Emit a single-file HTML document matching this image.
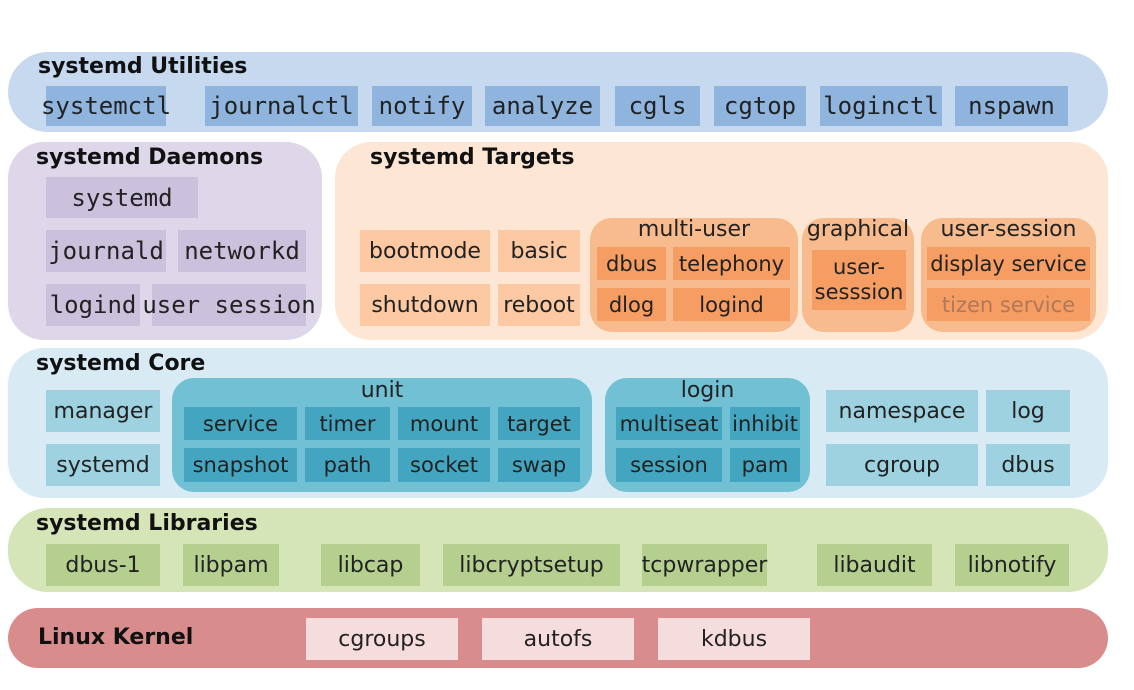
<!DOCTYPE html>
<html><head><style>
body{margin:0;width:1134px;height:690px;background:#fff;position:relative;overflow:hidden;font-family:"DejaVu Sans","Liberation Sans",sans-serif;}
div{position:absolute;box-sizing:border-box;}
.band{border-radius:40px;}
.t{font-weight:bold;font-size:22px;color:#111;white-space:nowrap;}
.b{display:flex;align-items:center;justify-content:center;font-size:22px;color:#222;white-space:nowrap;}
.m{font-family:"DejaVu Sans Mono","Liberation Mono",monospace;font-size:24px;}
.u{background:#8fb4de;}
.p{background:#cbc1dd;}
.o1{background:#fcc9a2;}
.o{background:#f59d62;font-size:21px;}
.g{background:#f8bb8e;border-radius:22px;}
.c{background:#9fd2e0;}
.cg{background:#72c0d4;border-radius:22px;}
.cd{background:#43a5bf;font-size:21px;}
.l{background:#b5cf8f;}
.k{background:#f5dddd;}
.gl{font-size:22px;color:#222;text-align:center;white-space:nowrap;}
</style></head><body>
<div class="band" style="left:8px;top:52px;width:1100px;height:80px;background:#c6d9ef"></div>
<div class="t" style="left:38px;top:54px">systemd Utilities</div>
<div class="b m u" style="left:46px;top:86px;width:120px;height:40px">systemctl</div>
<div class="b m u" style="left:205px;top:86px;width:153px;height:40px">journalctl</div>
<div class="b m u" style="left:372px;top:86px;width:100px;height:40px">notify</div>
<div class="b m u" style="left:485px;top:86px;width:115px;height:40px">analyze</div>
<div class="b m u" style="left:615px;top:86px;width:85px;height:40px">cgls</div>
<div class="b m u" style="left:714px;top:86px;width:92px;height:40px">cgtop</div>
<div class="b m u" style="left:820px;top:86px;width:122px;height:40px">loginctl</div>
<div class="b m u" style="left:955px;top:86px;width:113px;height:40px">nspawn</div>

<div style="left:8px;top:142px;width:314px;height:198px;background:#ded6e9;border-radius:36px"></div>
<div class="t" style="left:36px;top:145px">systemd Daemons</div>
<div class="b m p" style="left:46px;top:177px;width:152px;height:41px">systemd</div>
<div class="b m p" style="left:46px;top:230px;width:120px;height:42px">journald</div>
<div class="b m p" style="left:178px;top:230px;width:128px;height:42px">networkd</div>
<div class="b m p" style="left:46px;top:284px;width:94px;height:42px">logind</div>
<div class="b m p" style="left:152px;top:284px;width:154px;height:42px">user session</div>

<div style="left:335px;top:142px;width:773px;height:198px;background:#fde6d4;border-radius:36px"></div>
<div class="t" style="left:370px;top:145px">systemd Targets</div>
<div class="b o1" style="left:360px;top:230px;width:130px;height:42px">bootmode</div>
<div class="b o1" style="left:498px;top:230px;width:82px;height:42px">basic</div>
<div class="b o1" style="left:360px;top:284px;width:130px;height:42px">shutdown</div>
<div class="b o1" style="left:498px;top:284px;width:82px;height:42px">reboot</div>
<div class="g" style="left:590px;top:218px;width:208px;height:114px"></div>
<div class="gl" style="left:590px;top:217px;width:208px">multi-user</div>
<div class="b o" style="left:597px;top:247px;width:69px;height:33px">dbus</div>
<div class="b o" style="left:673px;top:247px;width:117px;height:33px">telephony</div>
<div class="b o" style="left:597px;top:288px;width:69px;height:33px">dlog</div>
<div class="b o" style="left:673px;top:288px;width:117px;height:33px">logind</div>
<div class="g" style="left:802px;top:218px;width:112px;height:114px"></div>
<div class="gl" style="left:798px;top:217px;width:120px">graphical</div>
<div class="b o" style="left:812px;top:250px;width:94px;height:60px;line-height:1.2;text-align:center">user-<br>sesssion</div>
<div class="g" style="left:921px;top:218px;width:175px;height:114px"></div>
<div class="gl" style="left:921px;top:217px;width:175px">user-session</div>
<div class="b o" style="left:927px;top:247px;width:163px;height:33px">display service</div>
<div class="b o" style="left:927px;top:288px;width:163px;height:33px;color:#b07858">tizen service</div>

<div class="band" style="left:8px;top:348px;width:1100px;height:150px;background:#d8ebf5;border-radius:36px"></div>
<div class="t" style="left:36px;top:351px">systemd Core</div>
<div class="b c" style="left:46px;top:390px;width:114px;height:42px">manager</div>
<div class="b c" style="left:46px;top:444px;width:114px;height:42px">systemd</div>
<div class="cg" style="left:172px;top:378px;width:420px;height:114px"></div>
<div class="gl" style="left:172px;top:378px;width:420px">unit</div>
<div class="b cd" style="left:184px;top:407px;width:113px;height:33px">service</div>
<div class="b cd" style="left:305px;top:407px;width:85px;height:33px">timer</div>
<div class="b cd" style="left:398px;top:407px;width:92px;height:33px">mount</div>
<div class="b cd" style="left:498px;top:407px;width:82px;height:33px">target</div>
<div class="b cd" style="left:184px;top:448px;width:113px;height:34px">snapshot</div>
<div class="b cd" style="left:305px;top:448px;width:85px;height:34px">path</div>
<div class="b cd" style="left:398px;top:448px;width:92px;height:34px">socket</div>
<div class="b cd" style="left:498px;top:448px;width:82px;height:34px">swap</div>
<div class="cg" style="left:605px;top:378px;width:205px;height:114px"></div>
<div class="gl" style="left:605px;top:378px;width:205px">login</div>
<div class="b cd" style="left:616px;top:407px;width:106px;height:33px">multiseat</div>
<div class="b cd" style="left:730px;top:407px;width:70px;height:33px">inhibit</div>
<div class="b cd" style="left:616px;top:448px;width:106px;height:34px">session</div>
<div class="b cd" style="left:730px;top:448px;width:70px;height:34px">pam</div>
<div class="b c" style="left:826px;top:390px;width:152px;height:42px">namespace</div>
<div class="b c" style="left:986px;top:390px;width:84px;height:42px">log</div>
<div class="b c" style="left:826px;top:444px;width:152px;height:42px">cgroup</div>
<div class="b c" style="left:986px;top:444px;width:84px;height:42px">dbus</div>

<div class="band" style="left:8px;top:508px;width:1100px;height:84px;background:#d5e5b8"></div>
<div class="t" style="left:36px;top:511px">systemd Libraries</div>
<div class="b l" style="left:46px;top:544px;width:114px;height:42px">dbus-1</div>
<div class="b l" style="left:183px;top:544px;width:96px;height:42px">libpam</div>
<div class="b l" style="left:321px;top:544px;width:99px;height:42px">libcap</div>
<div class="b l" style="left:443px;top:544px;width:177px;height:42px">libcryptsetup</div>
<div class="b l" style="left:642px;top:544px;width:125px;height:42px">tcpwrapper</div>
<div class="b l" style="left:817px;top:544px;width:115px;height:42px">libaudit</div>
<div class="b l" style="left:955px;top:544px;width:114px;height:42px">libnotify</div>

<div class="band" style="left:8px;top:608px;width:1100px;height:60px;background:#d98c8c;border-radius:30px"></div>
<div class="t" style="left:38px;top:625px">Linux Kernel</div>
<div class="b k" style="left:306px;top:618px;width:152px;height:42px">cgroups</div>
<div class="b k" style="left:482px;top:618px;width:152px;height:42px">autofs</div>
<div class="b k" style="left:658px;top:618px;width:152px;height:42px">kdbus</div>
</body></html>
